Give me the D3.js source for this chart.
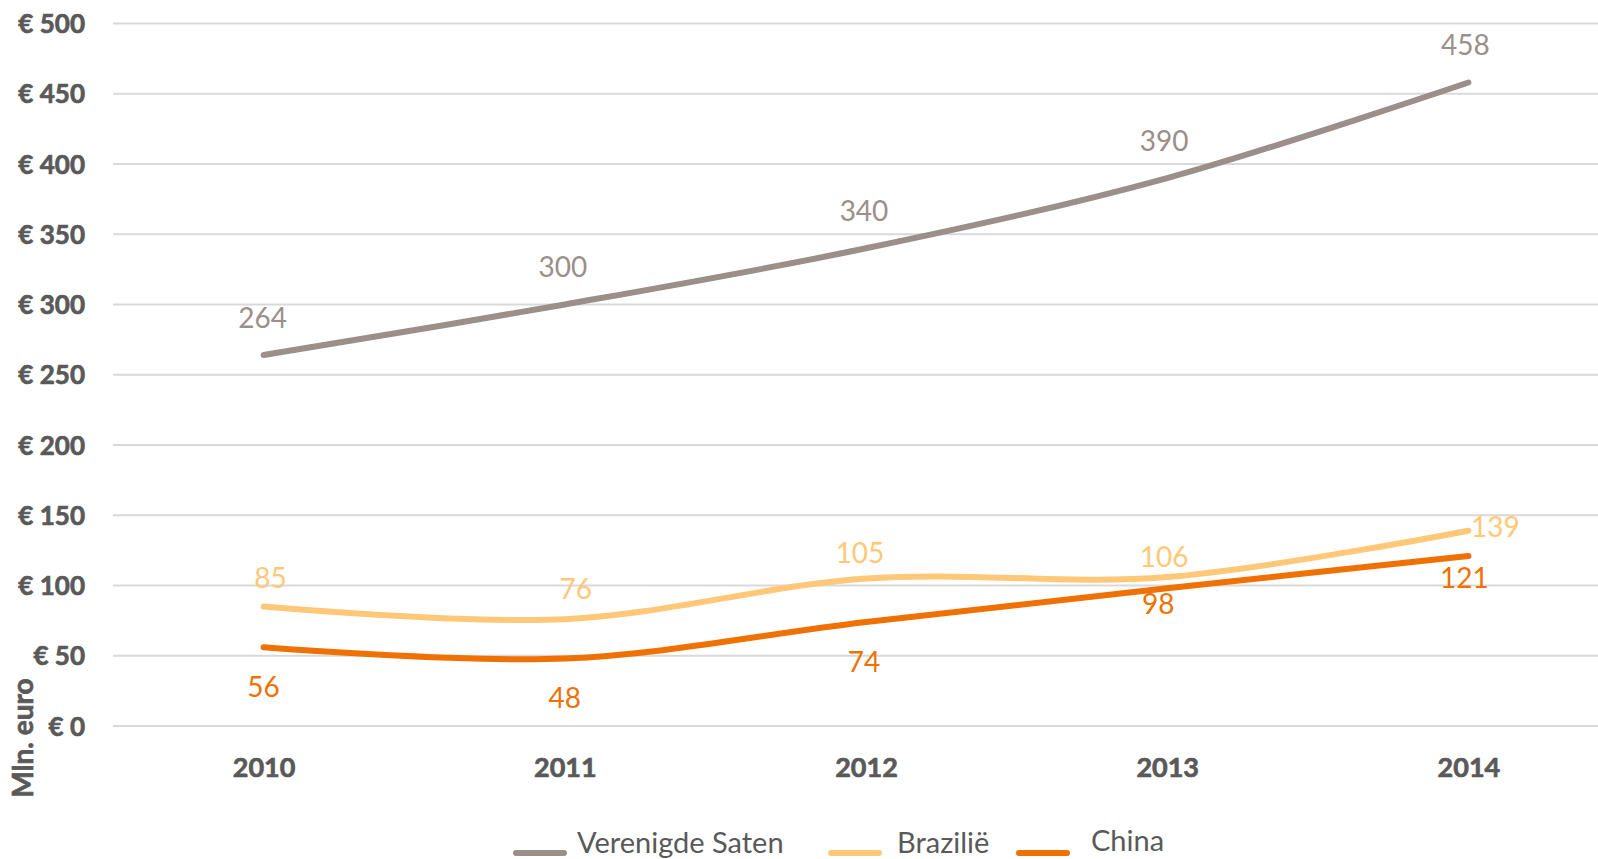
<!DOCTYPE html>
<html>
<head>
<meta charset="utf-8">
<script src="https://cdn.jsdelivr.net/npm/d3@7/dist/d3.min.js"></script>
<style>
  html, body { margin: 0; padding: 0; background: #fff; }
  svg { display: block; }
  text { font-family: Lato, "Open Sans", sans-serif; }
</style>
</head>
<body>
<svg id="chart" width="1598" height="859"></svg>
<script>
// ---- data ----
const years = ["2010", "2011", "2012", "2013", "2014"];
const seriesNames = ["Verenigde Saten", "Brazilië", "China"];
const usValues = [264, 300, 340, 390, 458];
const brazilValues = [85, 76, 105, 106, 139];
const chinaValues = [56, 48, 74, 98, 121];
const yTicks = [0, 50, 100, 150, 200, 250, 300, 350, 400, 450, 500];
const yAxisTitle = "Mln. euro";

// ---- layout / style (kept apart from data) ----
const colors = ["#9C8E89", "#FFC878", "#EF7103"];
// per-label nudges [dx, dy] of label centre relative to point
const labelNudge = [
  [[-1, -37], [-2, -37], [-2, -37], [-3, -37], [-3, -37]],
  [[7, -28], [11, -30], [-6, -25], [-3, -20], [27, -4]],
  [[0, 40], [0, 40], [-2, 40], [-9, 16], [-4, 22]]
];
const legendSwatchX = [513, 828, 1016];
const legendTextX = [577, 897, 1091];

const values = [usValues, brazilValues, chinaValues];
const svg = d3.select("#chart");

const x = d3.scalePoint().domain(years).range([113, 1619]).padding(0.5);
const y = d3.scaleLinear().domain([0, 500]).range([726, 23.5]);

// gridlines
svg.append("g").selectAll("line").data(yTicks).join("line")
  .attr("x1", 113).attr("x2", 1598)
  .attr("y1", d => y(d)).attr("y2", d => y(d))
  .attr("stroke", "#D9D9D9").attr("stroke-width", 2);

// y axis labels
const yAxis = d3.axisLeft(y).tickValues(yTicks).tickSize(0).tickPadding(0)
  .tickFormat(d => "€ " + d);
svg.append("g").attr("transform", "translate(85,0)").call(yAxis)
  .call(g => g.select(".domain").remove())
  .selectAll("text")
  .attr("font-family", "Lato, sans-serif")
  .attr("font-size", 26).attr("font-weight", "bold").attr("fill", "#595959")
  .attr("stroke", "#595959").attr("stroke-width", 0.7)
  .attr("dy", "0.35em");

// x axis labels
const xAxis = d3.axisBottom(x).tickSize(0).tickPadding(0);
svg.append("g").attr("transform", "translate(0,758)").call(xAxis)
  .call(g => g.select(".domain").remove())
  .selectAll("text")
  .attr("font-family", "Lato, sans-serif")
  .attr("font-size", 27).attr("font-weight", "bold").attr("fill", "#595959")
  .attr("stroke", "#595959").attr("stroke-width", 0.7)
  .attr("dy", "0.72em");

// y axis title
svg.append("text")
  .attr("transform", "translate(23,738) rotate(-90)")
  .attr("text-anchor", "middle").attr("dy", "0.35em")
  .attr("font-size", 28).attr("font-weight", "bold").attr("fill", "#595959")
  .attr("stroke", "#595959").attr("stroke-width", 0.7)
  .text(yAxisTitle);

// lines
const line = d3.line()
  .x((d, i) => x(years[i]))
  .y(d => y(d))
  .curve(d3.curveCardinal.tension(0));

values.forEach((vals, s) => {
  svg.append("path")
    .datum(vals)
    .attr("d", line)
    .attr("fill", "none")
    .attr("stroke", colors[s])
    .attr("stroke-width", 6)
    .attr("stroke-linecap", "round")
    .attr("stroke-linejoin", "round");
});

// data labels
values.forEach((vals, s) => {
  svg.append("g").selectAll("text").data(vals).join("text")
    .attr("x", (d, i) => x(years[i]) + labelNudge[s][i][0])
    .attr("y", (d, i) => y(d) + labelNudge[s][i][1])
    .attr("dy", "0.35em")
    .attr("text-anchor", "middle")
    .attr("font-size", 28)
    .attr("fill", colors[s])
    .text(d => d);
});

// legend
const leg = svg.append("g");
seriesNames.forEach((name, s) => {
  const gx = legendSwatchX[s];
  leg.append("line")
    .attr("x1", gx + 3).attr("x2", gx + 51)
    .attr("y1", 853).attr("y2", 853)
    .attr("stroke", colors[s]).attr("stroke-width", 6)
    .attr("stroke-linecap", "round");
  leg.append("text")
    .attr("x", legendTextX[s]).attr("y", s === 2 ? 851 : 853)
    .attr("font-size", 29).attr("fill", "#595959")
    .text(name);
});
</script>
</body>
</html>
